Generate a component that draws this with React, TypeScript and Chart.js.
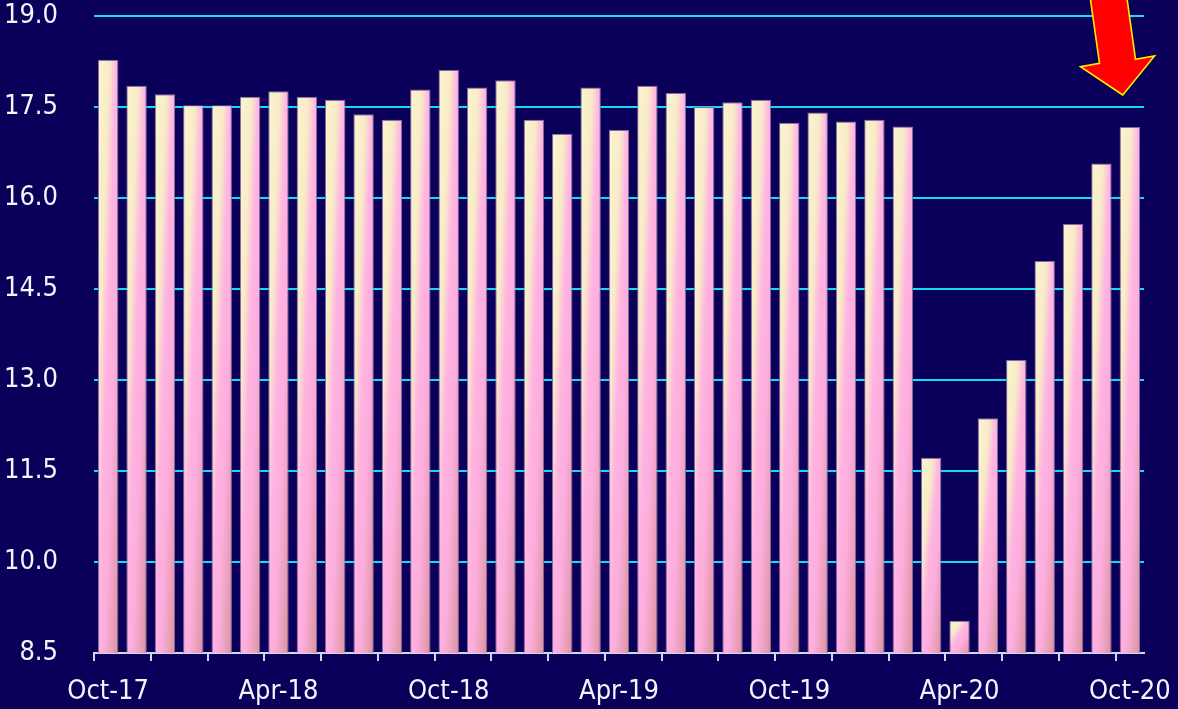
import React, { useEffect, useRef } from "react";
import { Chart, registerables } from "chart.js";

Chart.register(...registerables);

const categories: string[] = [
  "Oct-17", "Nov-17", "Dec-17", "Jan-18", "Feb-18", "Mar-18",
  "Apr-18", "May-18", "Jun-18", "Jul-18", "Aug-18", "Sep-18",
  "Oct-18", "Nov-18", "Dec-18", "Jan-19", "Feb-19", "Mar-19",
  "Apr-19", "May-19", "Jun-19", "Jul-19", "Aug-19", "Sep-19",
  "Oct-19", "Nov-19", "Dec-19", "Jan-20", "Feb-20", "Mar-20",
  "Apr-20", "May-20", "Jun-20", "Jul-20", "Aug-20", "Sep-20",
  "Oct-20",
];

const values: number[] = [
  18.28, 17.85, 17.71, 17.53, 17.53, 17.67,
  17.76, 17.67, 17.62, 17.38, 17.29, 17.79,
  18.11, 17.82, 17.94, 17.29, 17.06, 17.82,
  17.12, 17.85, 17.73, 17.50, 17.58, 17.62,
  17.24, 17.41, 17.26, 17.29, 17.18, 11.72,
  9.03, 12.37, 13.33, 14.96, 15.57, 16.57,
  17.17,
];

const shownTickLabels: string[] = ["Oct-17", "Apr-18", "Oct-18", "Apr-19", "Oct-19", "Apr-20", "Oct-20"];

const Y_MIN = 8.5;
const Y_MAX = 19.0;
const Y_STEP = 1.5;

const BG = "#0b0059";
const GRID = "#12dcf2";
const TEXT = "#f4f4ff";
const FONT = '"Liberation Sans Narrow", "Arial Narrow", "DejaVu Sans Condensed", sans-serif';
const FONT_SIZE = 27;
const BAR_PCT = 0.72;

const arrowPlugin = {
  id: "arrowMark",
  afterDatasetsDraw(chart: any) {
    const meta = chart.getDatasetMeta(0);
    const last = meta.data[meta.data.length - 1];
    if (!last) return;
    const tx = last.x - 7;
    const ty = last.y - 32;
    const pts: [number, number][] = [
      [0, 0],
      [-42.3, -28.3],
      [-23.3, -31.7],
      [-33.7, -105],
      [3.0, -105],
      [12.7, -35.7],
      [31.7, -39],
    ];
    const ctx = chart.ctx;
    ctx.save();
    ctx.beginPath();
    pts.forEach(([dx, dy], i) => {
      if (i === 0) ctx.moveTo(tx + dx, ty + dy);
      else ctx.lineTo(tx + dx, ty + dy);
    });
    ctx.closePath();
    ctx.fillStyle = "#ff0000";
    ctx.fill();
    ctx.lineWidth = 1.6;
    ctx.strokeStyle = "#ffee00";
    ctx.lineJoin = "miter";
    ctx.stroke();
    ctx.restore();
  },
};

function barFill(c: any) {
  const chart = c.chart;
  const { chartArea, scales } = chart;
  if (!chartArea || c.type !== "data" || !scales.x || !scales.y) return "#f6c4d8";
  const xs = scales.x;
  const ys = scales.y;
  const v = c.parsed ? c.parsed.y : values[c.dataIndex];
  const slot = xs.width / categories.length;
  const w = slot * BAR_PCT;
  const left = xs.getPixelForValue(c.dataIndex) - w / 2;
  const top = ys.getPixelForValue(v);
  const bottom = ys.getPixelForValue(Y_MIN);
  const h = Math.max(bottom - top, 1);
  const a = 0.5 / w;
  const b = 0.5 / h;
  const n = a * a + b * b;
  const g = chart.ctx.createLinearGradient(left, top, left + a / n, top + b / n);
  g.addColorStop(0, "#fbf3cf");
  g.addColorStop(0.28, "#f8ecc8");
  g.addColorStop(0.46, "#ffb4e2");
  g.addColorStop(0.66, "#fcaddc");
  g.addColorStop(1, "#d8949b");
  return g;
}

export default function App() {
  const canvasRef = useRef<HTMLCanvasElement | null>(null);

  useEffect(() => {
    document.body.style.margin = "0";
    document.body.style.background = BG;
    const canvas = canvasRef.current;
    if (!canvas) return;
    const chart = new Chart(canvas, {
      type: "bar",
      data: {
        labels: categories,
        datasets: [
          {
            data: values,
            backgroundColor: barFill as any,
            borderColor: "rgba(140,110,165,0.95)",
            borderWidth: 1,
            barPercentage: BAR_PCT,
            categoryPercentage: 1,
          },
        ],
      },
      options: {
        responsive: false,
        animation: false,
        events: [],
        layout: { padding: { top: 16, right: 34, bottom: 0, left: 0 } },
        plugins: {
          legend: { display: false },
          tooltip: { enabled: false },
        },
        scales: {
          x: {
            type: "category",
            offset: true,
            afterFit: (s: any) => {
              s.height = 56;
            },
            grid: {
              offset: true,
              drawOnChartArea: false,
              drawTicks: true,
              tickLength: 8,
              lineWidth: 2,
              color: (ctx: any) => (ctx.index % 2 === 0 ? "#d6d6f0" : "rgba(0,0,0,0)"),
              tickColor: (ctx: any) => (ctx.index % 2 === 0 ? "#d6d6f0" : "rgba(0,0,0,0)"),
            },
            border: { display: true, color: "#d6d6f0", width: 2 },
            ticks: {
              autoSkip: false,
              maxRotation: 0,
              minRotation: 0,
              padding: 4,
              color: TEXT,
              font: { family: FONT, size: FONT_SIZE, lineHeight: 2.0 },
              callback: (_v: any, i: number) =>
                shownTickLabels.includes(categories[i]) ? categories[i] : "",
            },
          },
          y: {
            min: Y_MIN,
            max: Y_MAX,
            afterFit: (s: any) => {
              s.width = 94;
            },
            grid: {
              color: GRID,
              lineWidth: 2,
              drawTicks: true,
              tickLength: 36,
              tickColor: "rgba(0,0,0,0)",
            },
            border: { display: false },
            ticks: {
              stepSize: Y_STEP,
              padding: 0,
              color: TEXT,
              font: { family: FONT, size: FONT_SIZE, lineHeight: 1 },
              callback: (v: any) => Number(v).toFixed(1),
            },
          },
        },
      },
      plugins: [arrowPlugin],
    });
    return () => chart.destroy();
  }, []);

  return (
    <div style={{ width: 1178, height: 709, background: BG, overflow: "hidden" }}>
      <canvas ref={canvasRef} width={1178} height={709} style={{ display: "block" }} />
    </div>
  );
}
